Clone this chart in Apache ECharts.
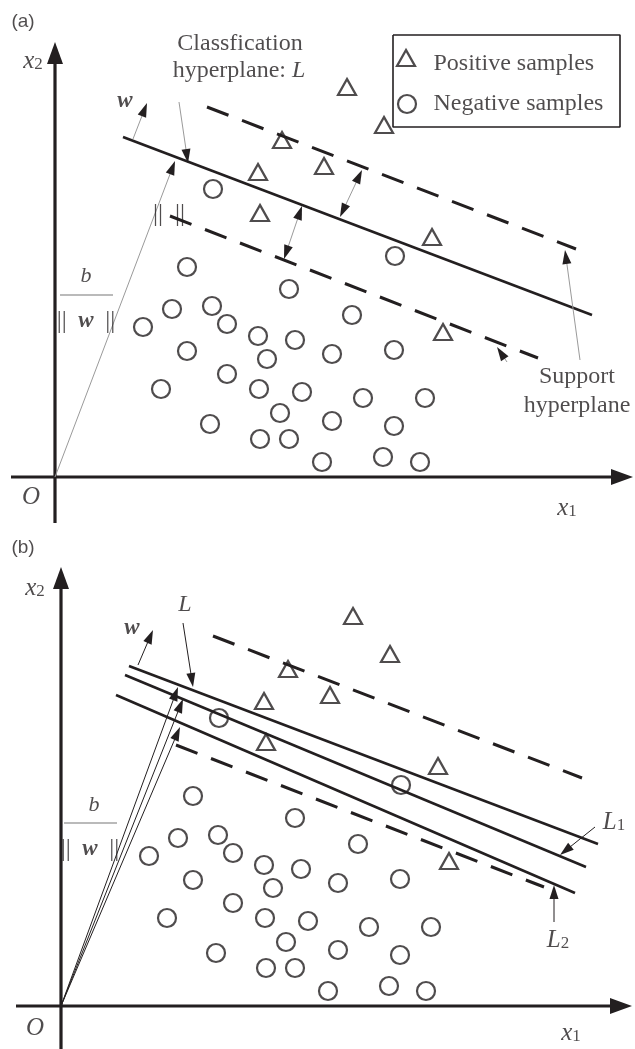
<!DOCTYPE html>
<html><head><meta charset="utf-8">
<script src="https://cdn.jsdelivr.net/npm/echarts@6/dist/echarts.min.js"></script>
<style>html,body{margin:0;padding:0;background:#fff}#c{width:635px;height:1049px}</style>
</head><body><div id="c"></div>
<script>
// ---- Sample points (same samples in both panels), diagram units (x1, x2) ----
const posX = [292, 329, 227, 269, 203, 205, 377, 388];
const posY = [390, 352, 337, 311, 305, 264, 240, 145];
const negX = [158, 132, 234, 340, 297, 117, 157, 88, 172, 203, 240, 212, 132, 277, 339,
              172, 106, 204, 247, 308, 370, 225, 155, 277, 339, 205, 234, 267, 328, 365];
const negY = [288, 210, 188, 221, 162, 168, 171, 150, 153, 141, 137, 118, 126, 123, 127,
              103, 88, 88, 85, 79, 79, 64, 53, 56, 51, 38, 38, 15, 20, 15];

// ---- Hyperplanes: [x1start, x2start, x1end, x2end] ----
const lineL     = [68, 340, 537, 162];
const lineUpper = [152, 370, 521, 228];
const lineLower = [115, 261, 483, 119];
const lineL1    = [64, 331, 525, 139];
const lineL2    = [55, 311, 514, 113];

// ---- Arrows: [fromX, fromY, toX, toY, heads] ----
const axesA = [[0, -46, 0, 435, 1], [-44, 0, 578, 0, 1]];
const axesB = [[0, -43, 0, 439, 1], [-45, 0, 571, 0, 1]];
const arrowsA = [
  [0, 0, 120, 316, 1],      // b/||w||
  [78, 338, 92, 374, 1],    // w
  [124, 375, 133, 314, 1],  // classification label
  [229, 218, 247, 271, 2],  // margin
  [285, 260, 307, 307, 2],  // margin
  [525, 117, 510, 227, 1],  // support upper
  [452, 115, 442, 130, 1]   // support lower
];
const arrowsB = [
  [0, 0, 117, 319, 1], [0, 0, 122, 307, 1], [0, 0, 119, 279, 1],
  [77, 341, 92, 376, 1],    // w
  [122, 383, 132, 319, 1],  // L
  [534, 179, 499, 151, 1],  // L1
  [493, 84, 493, 121, 1]    // L2
];
const legendBox = [[338, 442], [565, 442], [565, 350], [338, 350], [338, 442]];
const fracBarA = [[5, 182], [58, 182]];
const fracBarB = [[3, 183], [56, 183]];

const INK = '#231f20';
const SERIF = 'Liberation Serif';

const rich = {
  n:  {fontFamily: SERIF, fontSize: 24, color: INK},
  it: {fontFamily: SERIF, fontSize: 25, fontStyle: 'italic', color: INK},
  itS:{fontFamily: SERIF, fontSize: 24, fontStyle: 'italic', color: INK},
  itB:{fontFamily: SERIF, fontSize: 22, fontStyle: 'italic', color: INK},
  sub:{fontFamily: SERIF, fontSize: 17, color: INK, verticalAlign: 'bottom'},
  bi: {fontFamily: SERIF, fontSize: 23, fontStyle: 'italic', fontWeight: 'bold', color: INK},
  bar:{fontFamily: SERIF, fontSize: 25, color: INK},
  sans:{fontFamily: 'Liberation Sans', fontSize: 19, color: INK}
};

const textsA = [
  {value: [-32, 455], t: '{sans|(a)}'},
  {value: [-22, 416], t: '{it|x}{sub|2}'},
  {value: [-24, -20], t: '{it|O}'},
  {value: [512, -31], t: '{it|x}{sub|1}'},
  {value: [185, 433], t: '{n|Classfication}'},
  {value: [184, 406], t: '{n|hyperplane: }{itS|L}'},
  {value: [70, 376], t: '{bi|w}'},
  {value: [103, 263], t: '{bar|||}'},
  {value: [125, 263], t: '{bar|||}'},
  {value: [31, 201], t: '{itB|b}'},
  {value: [31, 156], t: '{bar|||}{bi|  w  }{bar|||}'},
  {value: [522, 100], t: '{n|Support}'},
  {value: [522, 71], t: '{n|hyperplane}'},
  {value: [378, 413], t: '{n|Positive samples}', left: true},
  {value: [378, 373], t: '{n|Negative samples}', left: true}
];
const textsB = [
  {value: [-38, 458], t: '{sans|(b)}'},
  {value: [-26, 418], t: '{it|x}{sub|2}'},
  {value: [-26, -22], t: '{it|O}'},
  {value: [510, -27], t: '{it|x}{sub|1}'},
  {value: [124, 401], t: '{itS|L}'},
  {value: [71, 378], t: '{bi|w}'},
  {value: [553, 184], t: '{it|L}{sub|1}'},
  {value: [497, 66], t: '{it|L}{sub|2}'},
  {value: [33, 201], t: '{itB|b}'},
  {value: [29, 157], t: '{bar|||}{bi|  w  }{bar|||}'}
];

function seg(a) { return [[a[0], a[1]], [a[2], a[3]]]; }

function arrowRender(shaft, width, headLen, headHalf) {
  return function (params, api) {
    const p1 = api.coord([api.value(0), api.value(1)]);
    const p2 = api.coord([api.value(2), api.value(3)]);
    const both = api.value(4) === 2;
    const dx = p2[0] - p1[0], dy = p2[1] - p1[1];
    const len = Math.hypot(dx, dy), ux = dx / len, uy = dy / len;
    const back = headLen * 0.7;
    const s = both ? [p1[0] + ux * back, p1[1] + uy * back] : p1;
    const e = [p2[0] - ux * back, p2[1] - uy * back];
    const head = (tip, vx, vy) => {
      const bx = tip[0] - vx * headLen, by = tip[1] - vy * headLen;
      return {type: 'polygon', shape: {points: [[tip[0], tip[1]],
        [bx - vy * headHalf, by + vx * headHalf], [bx + vy * headHalf, by - vx * headHalf]]},
        style: {fill: INK}};
    };
    const ch = [{type: 'line', shape: {x1: s[0], y1: s[1], x2: e[0], y2: e[1]},
                 style: {stroke: shaft, lineWidth: width}}, head(p2, ux, uy)];
    if (both) ch.push(head(p1, -ux, -uy));
    return {type: 'group', children: ch};
  };
}

function lineSeries(idx, data, dashed, width, color) {
  return {type: 'line', xAxisIndex: idx, yAxisIndex: idx, data: data, symbol: 'none',
    silent: true, lineStyle: {color: color || INK, width: width, type: dashed ? [23, 14.5] : 'solid', cap: 'butt'}, z: 2};
}
function samples(idx) {
  return [
    {type: 'scatter', xAxisIndex: idx, yAxisIndex: idx, symbol: 'triangle', symbolSize: [18, 16],
      data: posX.map((x, i) => [x, posY[i]]),
      itemStyle: {color: 'rgba(0,0,0,0)', borderColor: INK, borderWidth: 2.2}, z: 3},
    {type: 'scatter', xAxisIndex: idx, yAxisIndex: idx, symbol: 'circle', symbolSize: 18,
      data: negX.map((x, i) => [x, negY[i]]),
      itemStyle: {color: 'rgba(0,0,0,0)', borderColor: INK, borderWidth: 2.2}, z: 3}
  ];
}
function texts(idx, list) {
  return {type: 'scatter', xAxisIndex: idx, yAxisIndex: idx, symbolSize: 1, silent: true,
    itemStyle: {color: 'rgba(0,0,0,0)'}, z: 5,
    data: list.map(d => ({value: d.value, label: {show: true, formatter: d.t,
      position: d.left ? 'right' : 'inside', distance: 0, rich: rich}}))};
}
function arrows(idx, data, shaft, width, hl, hh) {
  return {type: 'custom', xAxisIndex: idx, yAxisIndex: idx, data: data, silent: true, z: 4,
    renderItem: arrowRender(shaft, width, hl, hh)};
}

const series = [
  // panel (a)
  lineSeries(0, seg(lineL), false, 2.6),
  lineSeries(0, seg(lineUpper), true, 3),
  lineSeries(0, seg(lineLower), true, 3),
  ...samples(0),
  arrows(0, axesA, INK, 3.2, 22, 8),
  arrows(0, arrowsA, '#9a9a9a', 1, 14, 4.5),
  lineSeries(0, fracBarA, false, 1.2, '#777'),
  lineSeries(0, legendBox, false, 1.6),
  {type: 'scatter', xAxisIndex: 0, yAxisIndex: 0, z: 3,
    itemStyle: {color: 'rgba(0,0,0,0)', borderColor: INK, borderWidth: 2.2},
    data: [{value: [351, 419], symbol: 'triangle', symbolSize: [18, 16]},
           {value: [352, 373], symbol: 'circle', symbolSize: 18}]},
  texts(0, textsA),
  // panel (b)
  lineSeries(1, seg(lineL), false, 2.6),
  lineSeries(1, seg(lineL1), false, 2.6),
  lineSeries(1, seg(lineL2), false, 2.6),
  lineSeries(1, seg(lineUpper), true, 3),
  lineSeries(1, seg(lineLower), true, 3),
  ...samples(1),
  arrows(1, axesB, INK, 3.2, 22, 8),
  arrows(1, arrowsB, INK, 1, 14, 4.5),
  lineSeries(1, fracBarB, false, 1.2, '#777'),
  texts(1, textsB)
];

const chart = echarts.init(document.getElementById('c'), null, {renderer: 'canvas'});
chart.setOption({
  animation: false,
  backgroundColor: '#fff',
  grid: [
    {left: 0, top: 0, width: 635, height: 523},
    {left: 0, top: 530, width: 635, height: 519}
  ],
  xAxis: [
    {type: 'value', gridIndex: 0, min: -55, max: 580, show: false},
    {type: 'value', gridIndex: 1, min: -61, max: 574, show: false}
  ],
  yAxis: [
    {type: 'value', gridIndex: 0, min: -46, max: 477, show: false},
    {type: 'value', gridIndex: 1, min: -43, max: 476, show: false}
  ],
  series: series
});
</script></body></html>
